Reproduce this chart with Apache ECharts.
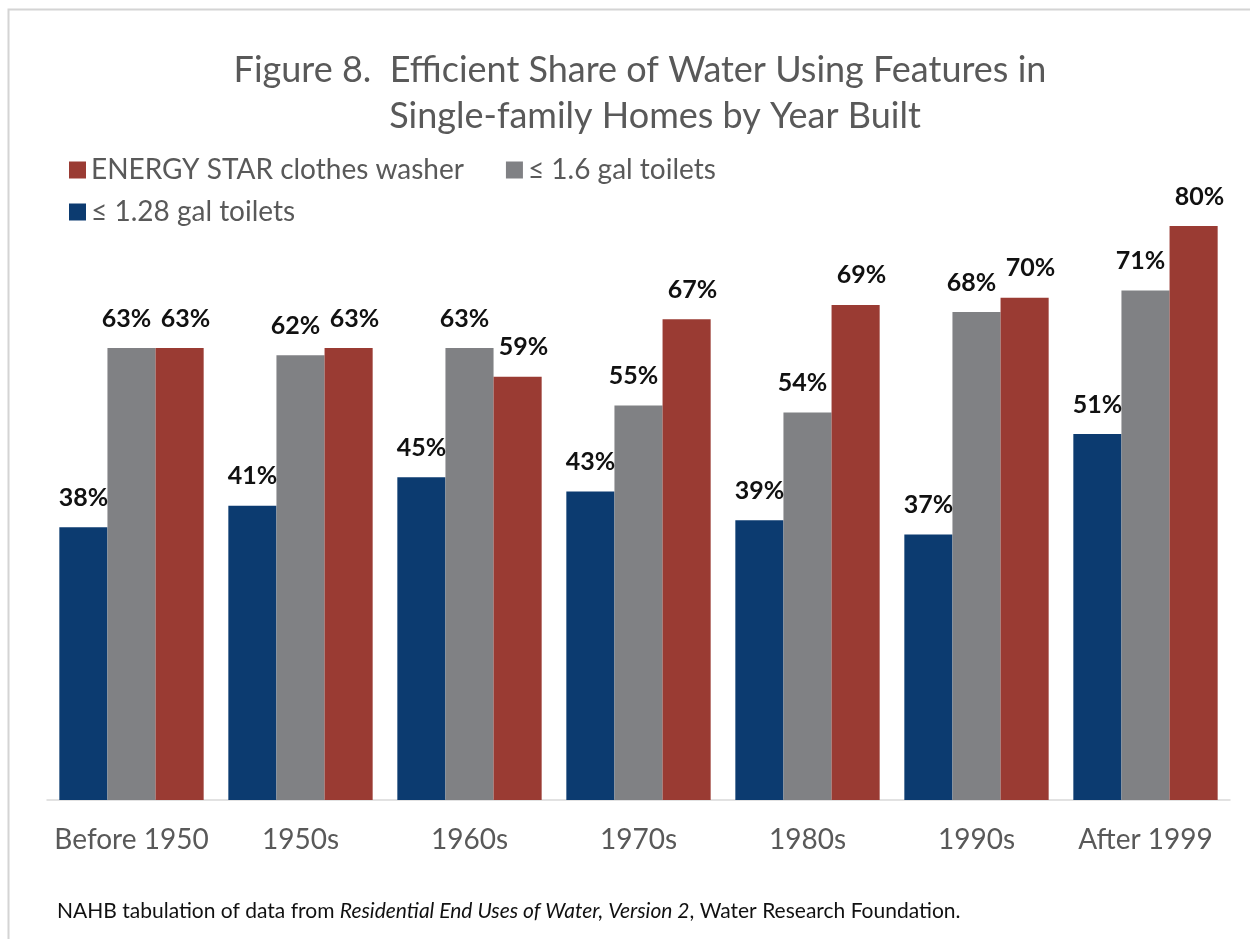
<!DOCTYPE html>
<html>
<head>
<meta charset="utf-8">
<script src="https://cdn.jsdelivr.net/npm/echarts@6/dist/echarts.min.js"></script>
<style>
  html, body { margin: 0; padding: 0; background: #fff; }
  #main { width: 1250px; height: 939px; }
</style>
</head>
<body>
<div id="main"></div>
<script>
// categories + values
var years = ['Before 1950', '1950s', '1960s', '1970s', '1980s', '1990s', 'After 1999'];
var toilet128 = [38, 41, 45, 43, 39, 37, 51];
var toilet16 = [63, 62, 63, 55, 54, 68, 71];
var washer = [63, 63, 59, 67, 69, 70, 80];

var FONT = 'Lato, "Open Sans", sans-serif';

var chart = echarts.init(document.getElementById('main'));

function barSeries(name, data, color, dx) {
  return {
    name: name,
    type: 'bar',
    data: data,
    barGap: '0%',
    barCategoryGap: '14.6%',
    itemStyle: { color: color },
    label: {
      show: true,
      position: 'top',
      distance: 17,
      offset: [dx, 0],
      formatter: '{c}%',
      color: '#111',
      fontFamily: FONT,
      fontWeight: 'bold',
      fontSize: 25
    }
  };
}

var titleStyle = {
  fill: '#595959',
  fontFamily: FONT,
  fontSize: 36,
  textAlign: 'center',
  textVerticalAlign: 'middle'
};

var option = {
  backgroundColor: '#fff',
  animation: false,
  legend: [
    {
      data: ['ENERGY STAR clothes washer', '≤ 1.6 gal toilets'],
      left: 64, top: 151,
      itemWidth: 17, itemHeight: 17, itemGap: 42,
      icon: 'rect',
      textStyle: { color: '#595959', fontFamily: FONT, fontSize: 28 }
    },
    {
      data: ['≤ 1.28 gal toilets'],
      left: 64, top: 193,
      itemWidth: 17, itemHeight: 17,
      icon: 'rect',
      textStyle: { color: '#595959', fontFamily: FONT, fontSize: 28 }
    }
  ],
  grid: { left: 47, right: 20, top: 82.5, bottom: 139, containLabel: false },
  xAxis: {
    type: 'category',
    data: years,
    axisTick: { show: false },
    axisLine: { lineStyle: { color: '#d9d9d9', width: 1.5 } },
    axisLabel: {
      interval: 0,
      color: '#595959',
      fontFamily: FONT,
      fontSize: 28,
      margin: 26
    }
  },
  yAxis: {
    type: 'value',
    min: 0,
    max: 100,
    show: false,
    splitLine: { show: false }
  },
  series: [
    barSeries('≤ 1.28 gal toilets', toilet128, '#0c3b70', 0),
    barSeries('≤ 1.6 gal toilets', toilet16, '#808184', -5),
    barSeries('ENERGY STAR clothes washer', washer, '#9a3b33', 6)
  ],
  graphic: [
    {
      type: 'rect',
      shape: { x: 8.5, y: 9.5, width: 1260, height: 960 },
      style: { fill: 'none', stroke: '#d4d4d4', lineWidth: 2 },
      silent: true
    },
    {
      type: 'text',
      x: 640, y: 70,
      style: Object.assign({ text: 'Figure 8.  Efficient Share of Water Using Features in' }, titleStyle)
    },
    {
      type: 'text',
      x: 655, y: 116,
      style: Object.assign({ text: 'Single-family Homes by Year Built' }, titleStyle)
    },
    {
      type: 'text',
      left: 57,
      top: 901,
      style: {
        rich: {
          n: { fontFamily: FONT, fontSize: 21, fill: '#111' },
          i: { fontFamily: FONT, fontSize: 21, fill: '#111', fontStyle: 'italic' }
        },
        text: '{n|NAHB tabulation of data from }{i|Residential End Uses of Water, Version 2}{n|, Water Research Foundation.}'
      }
    }
  ]
};

chart.setOption(option);
</script>
</body>
</html>
